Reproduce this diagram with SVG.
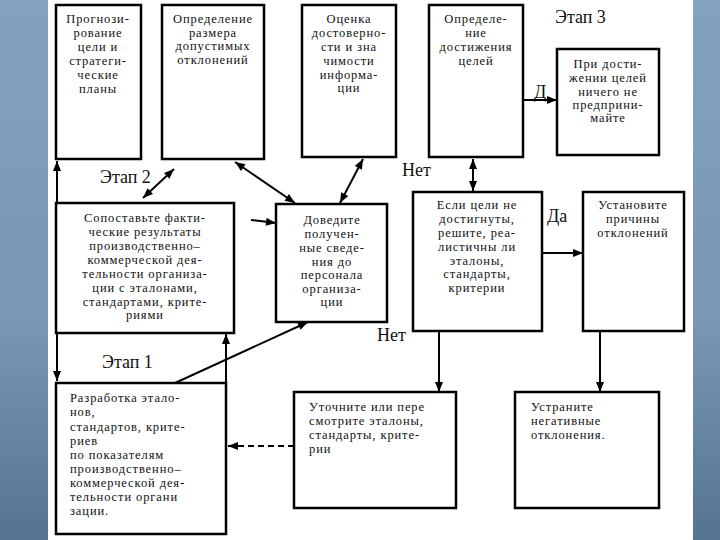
<svg xmlns="http://www.w3.org/2000/svg" width="720" height="540" viewBox="0 0 720 540">
<defs>
<linearGradient id="bg" x1="0" y1="0" x2="0" y2="1">
<stop offset="0" stop-color="#84a2bd"/>
<stop offset="0.6" stop-color="#7996b2"/>
<stop offset="1" stop-color="#56748f"/>
</linearGradient>
<marker id="ah" viewBox="0 0 10 8" refX="10" refY="4" markerWidth="11" markerHeight="8" markerUnits="userSpaceOnUse" orient="auto-start-reverse">
<path d="M0,0 L10,4 L0,8 z" fill="#000"/>
</marker>
<style>
.box{fill:#fff;stroke:#000;stroke-width:2.5}
.t{font-size:12.5px;letter-spacing:0.9px;fill:#111}
.c{text-anchor:middle}
.lbl{font-size:18px;fill:#111}
.ln{stroke:#000;stroke-width:2;fill:none}
</style>
</defs>
<rect x="0" y="0" width="720" height="540" fill="#fff"/>
<rect x="0" y="0" width="48" height="540" fill="url(#bg)"/>
<rect x="693" y="0" width="27" height="540" fill="url(#bg)"/>

<g id="connectors">
<line class="ln" x1="57" y1="381" x2="57" y2="161" marker-start="url(#ah)" marker-end="url(#ah)"/>
<line class="ln" x1="143" y1="198" x2="174" y2="169" marker-start="url(#ah)" marker-end="url(#ah)"/>
<line class="ln" x1="235" y1="162" x2="295" y2="203" marker-start="url(#ah)" marker-end="url(#ah)"/>
<line class="ln" x1="363" y1="159" x2="340" y2="203" marker-start="url(#ah)" marker-end="url(#ah)"/>
<line class="ln" x1="251" y1="220" x2="276" y2="223" marker-end="url(#ah)"/>
<line class="ln" x1="473" y1="159" x2="473" y2="191" marker-start="url(#ah)" marker-end="url(#ah)"/>
<line class="ln" x1="523" y1="100" x2="557" y2="100" marker-end="url(#ah)"/>
<line class="ln" x1="542" y1="253" x2="583" y2="253" marker-end="url(#ah)"/>
<line class="ln" x1="439" y1="331" x2="439" y2="392" marker-end="url(#ah)"/>
<line class="ln" x1="600" y1="331" x2="600" y2="392" marker-end="url(#ah)"/>
<line class="ln" x1="175" y1="383" x2="308" y2="322" marker-end="url(#ah)"/>
<line class="ln" x1="226" y1="384" x2="226" y2="334" stroke-width="3" marker-end="url(#ah)"/>
<line class="ln" x1="294" y1="446" x2="228" y2="446" stroke-dasharray="6,4" marker-end="url(#ah)"/>
</g>

<g font-family="Liberation Serif, Times New Roman, serif">
<g id="n1">
<rect class="box" x="56" y="5" width="85" height="154"/>
<text class="t c" x="98" y="23">Прогнози-</text>
<text class="t c" x="98" y="37">рование</text>
<text class="t c" x="98" y="51">цели и</text>
<text class="t c" x="98" y="65">стратеги-</text>
<text class="t c" x="98" y="79">ческие</text>
<text class="t c" x="98" y="93">планы</text>
</g>
<g id="n2">
<rect class="box" x="162" y="5" width="102" height="154"/>
<text class="t c" x="213" y="23">Определение</text>
<text class="t c" x="213" y="37">размера</text>
<text class="t c" x="213" y="50">допустимых</text>
<text class="t c" x="213" y="64">отклонений</text>
</g>
<g id="n3">
<rect class="box" x="302" y="5" width="94" height="152"/>
<text class="t c" x="349" y="23">Оценка</text>
<text class="t c" x="349" y="37">достоверно-</text>
<text class="t c" x="349" y="51">сти и зна</text>
<text class="t c" x="349" y="65">чимости</text>
<text class="t c" x="349" y="79">информа-</text>
<text class="t c" x="349" y="92">ции</text>
</g>
<g id="n4">
<rect class="box" x="429" y="5" width="94" height="152"/>
<text class="t c" x="476" y="23">Определе-</text>
<text class="t c" x="476" y="37">ние</text>
<text class="t c" x="476" y="51">достижения</text>
<text class="t c" x="476" y="65">целей</text>
</g>
<g id="n5">
<rect class="box" x="557" y="49" width="102" height="106"/>
<text class="t c" x="608" y="68">При дости-</text>
<text class="t c" x="608" y="82">жении целей</text>
<text class="t c" x="608" y="96">ничего не</text>
<text class="t c" x="608" y="109">предприни-</text>
<text class="t c" x="608" y="122">майте</text>
</g>
<g id="n6">
<rect class="box" x="56" y="203" width="178" height="130"/>
<text class="t c" x="145" y="222">Сопоставьте факти-</text>
<text class="t c" x="145" y="236">ческие результаты</text>
<text class="t c" x="145" y="250">производственно–</text>
<text class="t c" x="145" y="264">коммерческой дея-</text>
<text class="t c" x="145" y="278">тельности организа-</text>
<text class="t c" x="145" y="292">ции с эталонами,</text>
<text class="t c" x="145" y="306">стандартами, крите-</text>
<text class="t c" x="145" y="319">риями</text>
</g>
<g id="n7">
<rect class="box" x="276" y="204" width="111" height="118"/>
<text class="t c" x="332" y="224">Доведите</text>
<text class="t c" x="332" y="238">получен-</text>
<text class="t c" x="332" y="252">ные сведе-</text>
<text class="t c" x="332" y="266">ния до</text>
<text class="t c" x="332" y="279">персонала</text>
<text class="t c" x="332" y="293">организа-</text>
<text class="t c" x="332" y="306">ции</text>
</g>
<g id="n8">
<rect class="box" x="413" y="192" width="129" height="139"/>
<text class="t c" x="477" y="209">Если цели не</text>
<text class="t c" x="477" y="223">достигнуты,</text>
<text class="t c" x="477" y="237">решите, реа-</text>
<text class="t c" x="477" y="251">листичны ли</text>
<text class="t c" x="477" y="265">эталоны,</text>
<text class="t c" x="477" y="278">стандарты,</text>
<text class="t c" x="477" y="292">критерии</text>
</g>
<g id="n9">
<rect class="box" x="583" y="192" width="101" height="139"/>
<text class="t c" x="633" y="209">Установите</text>
<text class="t c" x="633" y="223">причины</text>
<text class="t c" x="633" y="237">отклонений</text>
</g>
<g id="n10">
<rect class="box" x="294" y="392" width="162" height="116"/>
<text class="t" x="309" y="411">Уточните или пере</text>
<text class="t" x="309" y="425">смотрите эталоны,</text>
<text class="t" x="309" y="439">стандарты, крите-</text>
<text class="t" x="309" y="453">рии</text>
</g>
<g id="n11">
<rect class="box" x="515" y="392" width="144" height="116"/>
<text class="t" x="531" y="411">Устраните</text>
<text class="t" x="531" y="425">негативные</text>
<text class="t" x="531" y="439">отклонения.</text>
</g>
<g id="n12">
<rect class="box" x="56" y="383" width="170" height="151"/>
<text class="t" x="70" y="402">Разработка этало-</text>
<text class="t" x="70" y="416">нов,</text>
<text class="t" x="70" y="431">стандартов, крите-</text>
<text class="t" x="70" y="445">риев</text>
<text class="t" x="70" y="459">по показателям</text>
<text class="t" x="70" y="473">производственно–</text>
<text class="t" x="70" y="487">коммерческой дея-</text>
<text class="t" x="70" y="501">тельности органи</text>
<text class="t" x="70" y="515">зации.</text>
</g>

<g id="labels">
<text class="lbl" x="555" y="23">Этап 3</text>
<text class="lbl" x="100" y="183">Этап 2</text>
<text class="lbl" x="102" y="368">Этап 1</text>
<text class="lbl" x="402" y="176">Нет</text>
<text class="lbl" x="547" y="222">Да</text>
<text class="lbl" x="377" y="341">Нет</text>
<text class="lbl" x="534" y="98" font-size="15">Д</text>
</g>
</g>
</svg>
